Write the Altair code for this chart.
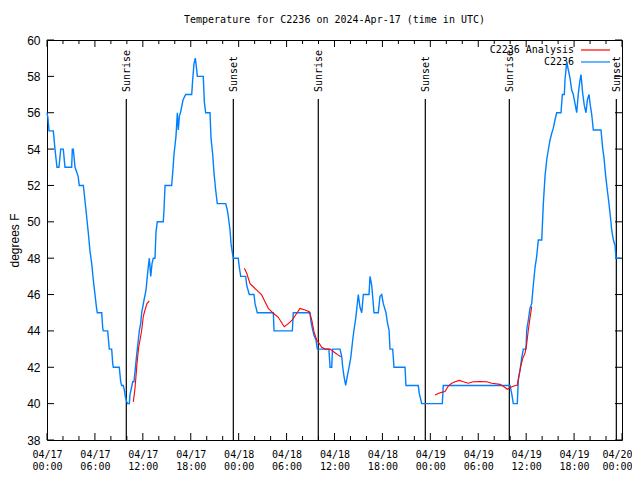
import altair as alt
import pandas as pd

# ---- data (hours since 2024-04-17 00:00 UTC, temperature in degrees F) ----
blue_hours = [0.0, 0.12, 0.25, 0.79, 1.0, 1.25, 1.5, 1.72, 2.04, 2.25, 3.09, 3.17, 3.29, 3.51, 3.9, 4.04, 4.55,
              4.88, 5.17, 5.38, 5.60, 5.80, 6.01, 6.22, 6.30, 6.85, 6.97, 7.05, 7.60, 7.76, 7.80, 8.10, 8.23, 8.30,
              9.05, 9.23, 9.35, 9.55, 9.68, 9.80, 9.98, 10.11, 10.31, 10.39, 10.52, 10.73, 10.89, 11.02, 11.23,
              11.36, 11.56, 11.73, 11.86, 12.15, 12.40, 12.56, 12.68, 12.81, 12.99, 13.15, 13.31, 13.52, 13.65,
              13.81, 14.56, 14.65, 14.78, 15.61, 15.74, 15.90, 16.15, 16.32, 16.44, 16.57, 16.74, 17.03, 17.37,
              18.12, 18.24, 18.41, 18.57, 18.75, 18.82, 19.57, 19.70, 19.87, 20.41, 20.54, 20.75, 20.91, 21.12,
              21.32, 22.38, 22.58, 22.70, 22.92, 23.04, 23.25, 23.33, 23.95, 24.08, 24.26, 24.88, 25.01, 25.33,
              25.92, 26.05, 26.33, 28.34, 28.43, 30.72, 30.84, 32.93, 33.06, 33.27, 33.47, 33.68, 33.85, 35.30,
              35.44, 35.65, 35.75, 36.69, 36.90, 37.03, 37.19, 37.40, 37.60, 37.82, 38.03, 38.28, 38.44, 38.66,
              38.86, 38.98, 39.19, 39.41, 39.61, 40.32, 40.45, 40.66, 40.95, 41.48, 41.70, 41.91, 42.11, 42.45,
              42.61, 42.83, 42.95, 43.29, 43.45, 44.83, 44.95, 46.49, 46.62, 46.92, 49.50, 49.62, 57.98, 58.19,
              58.39, 58.89, 59.02, 59.23, 59.44, 59.64, 59.98, 60.07, 60.27, 60.48, 60.69, 60.89, 61.11, 61.32,
              61.52, 61.95, 62.15, 62.36, 62.57, 62.77, 62.99, 63.20, 63.40, 63.61, 63.82, 64.36, 64.53, 64.78,
              64.86, 65.08, 65.28, 65.49, 65.70, 65.90, 66.12, 66.33, 66.53, 66.74, 66.87, 67.08, 67.28, 67.49,
              67.66, 67.87, 68.03, 68.21, 68.41, 69.37, 69.58, 69.75, 69.96, 70.16, 70.37, 70.59, 70.71, 70.92,
              71.13, 71.25, 71.75]
blue_temps = [56.0, 55.7, 55.0, 55.0, 54.0, 53.0, 53.0, 54.0, 54.0, 53.0, 53.0, 54.0, 54.0, 53.0, 52.5, 52.0, 52.0,
              50.65, 49.4, 48.4, 47.7, 46.8, 46.0, 45.2, 45.0, 45.0, 44.2, 44.0, 44.0, 43.2, 43.0, 43.0, 42.2, 42.0,
              42.0, 41.2, 41.0, 41.0, 40.75, 40.4, 40.1, 40.0, 40.0, 40.5, 40.75, 41.2, 41.2, 41.75, 42.7,
              43.2, 44.0, 44.4, 45.0, 45.7, 46.25, 47.0, 47.5, 48.0, 47.0, 47.7, 48.0, 48.0, 49.45,
              50.0, 50.0, 50.65, 52.0, 52.0, 52.7, 53.7, 54.7, 56.0, 55.05, 55.8, 56.05, 56.7, 57.0,
              57.0, 57.8, 58.7, 59.0, 58.35, 58.0, 58.0, 56.6, 56.0, 56.0, 54.6, 53.7, 52.7, 51.75,
              51.0, 51.0, 50.65, 50.3, 49.55, 48.8, 48.2, 48.0, 48.0, 47.5, 47.0, 47.0, 46.5, 46.0,
              46.0, 45.5, 45.0, 45.0, 44.0, 44.0, 45.0, 45.0, 44.5, 44.05, 43.7, 43.5, 43.0, 43.0,
              42.0, 42.0, 43.0, 43.0, 42.6, 42.0, 41.5, 41.0, 41.5, 42.0, 42.5, 43.5, 44.05, 44.7,
              45.5, 46.0, 45.3, 45.0, 46.0, 46.0, 47.0, 46.5, 45.0, 45.0, 45.9, 46.0, 45.5, 45.0,
              44.5, 44.05, 43.0, 43.0, 42.0, 42.0, 41.0, 41.0, 40.55, 40.0, 40.0, 41.0, 41.0, 40.55,
              40.0, 40.0, 41.3, 41.85, 42.5, 43.0, 43.0, 44.05, 44.6, 45.25, 45.5, 46.5, 47.5, 48.1,
              49.0, 49.0, 51.0, 52.5, 53.4, 53.95, 54.5, 54.87, 55.15, 55.6, 56.0, 56.0, 57.0, 57.0,
              57.8, 58.8, 58.35, 57.9, 57.25, 57.0, 56.5, 56.0, 57.05, 57.8, 58.1, 57.05, 56.4, 56.0,
              56.7, 57.0, 56.4, 55.9, 55.05, 55.05, 54.05, 53.5, 52.5, 51.75, 51.0, 50.1, 49.55, 49.0,
              48.7, 48.0, 48.0]

red_segment = [1] * 10 + [2] * 28 + [3] * 27
red_hours = [10.81, 11.02, 11.27, 11.48, 11.65, 11.86, 12.06, 12.27, 12.52, 12.81,
             24.71, 25.01, 25.42, 25.83, 26.46, 26.88, 27.30, 27.71, 28.34, 28.96, 29.39, 29.71, 30.22, 30.72,
             31.27, 31.68, 32.31, 32.85, 33.15, 33.43, 33.77, 34.10, 34.40, 34.81, 35.44, 36.06, 36.48, 36.78,
             48.58, 49.21, 49.84, 50.25, 50.68, 51.09, 51.63, 52.13, 52.75, 53.38, 54.22, 55.06, 55.69, 56.73,
             57.23, 57.64, 58.06, 58.48, 58.89, 59.07, 59.32, 59.57, 59.85, 60.07, 60.27, 60.48, 60.69]
red_temps = [40.1, 40.85, 42.2, 43.1, 43.5, 44.05, 44.8, 45.15, 45.5, 45.65,
             47.45, 47.17, 46.6, 46.43, 46.16, 45.98, 45.6, 45.24, 44.97, 44.75, 44.45, 44.23, 44.4, 44.6,
             44.97, 45.24, 45.15, 45.06, 44.6, 43.96, 43.5, 43.3, 43.1, 43.0, 43.0, 42.8, 42.67, 42.58,
             40.48, 40.6, 40.66, 40.97, 41.12, 41.2, 41.28, 41.2, 41.12, 41.2, 41.22, 41.2, 41.12, 41.06,
             40.93, 40.79, 40.9, 40.97, 41.02, 41.48, 42.03, 42.49, 42.77, 43.3, 44.05, 44.7, 45.33]

sun_hours = [9.93, 23.33, 33.97, 47.37, 57.89, 71.29]
sun_labels = ["Sunrise", "Sunset", "Sunrise", "Sunset", "Sunrise", "Sunset"]

x_major = list(range(0, 73, 6))
x_minor = [h for h in range(0, 73, 2) if h % 6 != 0]
y_major = list(range(38, 61, 2))

legend_labels = ["C2236 Analysis", "C2236"]
legend_colors = ["#ff0000", "#0080ff"]

TITLE = "Temperature for C2236 on 2024-Apr-17 (time in UTC)"
MONO = "DejaVu Sans Mono"
SANS = "Liberation Sans"

blue_df = pd.DataFrame({"h": blue_hours, "t": blue_temps})
red_df = pd.DataFrame({"h": red_hours, "t": red_temps, "seg": red_segment})
sun_df = pd.DataFrame({"h": sun_hours, "label": sun_labels})
xmaj_df = pd.DataFrame({"h": x_major})
xmin_df = pd.DataFrame({"h": x_minor})
ymaj_df = pd.DataFrame({"t": y_major})

xscale = alt.Scale(domain=[0, 72], nice=False, zero=False)
yscale = alt.Scale(domain=[38, 60], nice=False, zero=False)

label_expr = ("['04/' + (17 + floor(datum.value / 24)), "
              "(datum.value % 24 < 10 ? '0' : '') + (datum.value % 24) + ':00']")

x_axis = alt.Axis(values=x_major, labelExpr=label_expr, ticks=False, domain=False, grid=False,
                  labelFont=MONO, labelFontSize=10, labelColor="black", labelPadding=9,
                  labelLineHeight=12, labelFlush=False, labelOverlap=False, title=None,
                  labelAlign=alt.condition("datum.value >= 72", alt.value("right"), alt.value("center")),
                  labelOffset=alt.condition("datum.value >= 72", alt.value(10), alt.value(0)))
y_axis = alt.Axis(values=y_major, ticks=False, domain=False, grid=False,
                  labelFont=SANS, labelFontSize=12, labelColor="black", labelPadding=7,
                  title="degrees F", titleFont=SANS, titleFontSize=12, titleFontWeight="normal",
                  titleColor="black", titlePadding=5)

X = alt.X("h:Q", scale=xscale, axis=x_axis)
Y = alt.Y("t:Q", scale=yscale, axis=y_axis)

# inward ticks
tick_bottom_major = alt.Chart(xmaj_df).mark_rule(color="black", strokeWidth=1).encode(
    x=X, y=alt.value(400), y2=alt.value(393))
tick_top_major = alt.Chart(xmaj_df).mark_rule(color="black", strokeWidth=1).encode(
    x=X, y=alt.value(0), y2=alt.value(7))
tick_bottom_minor = alt.Chart(xmin_df).mark_rule(color="black", strokeWidth=1).encode(
    x=X, y=alt.value(400), y2=alt.value(396))
tick_top_minor = alt.Chart(xmin_df).mark_rule(color="black", strokeWidth=1).encode(
    x=X, y=alt.value(0), y2=alt.value(4))
tick_left = alt.Chart(ymaj_df).mark_rule(color="black", strokeWidth=1).encode(
    y=Y, x=alt.value(0), x2=alt.value(7))
tick_right = alt.Chart(ymaj_df).mark_rule(color="black", strokeWidth=1).encode(
    y=Y, x=alt.value(575), x2=alt.value(568))

sun_lines = alt.Chart(sun_df).mark_rule(color="black", strokeWidth=1.2).encode(
    x=X, y=alt.value(59), y2=alt.value(400))
sun_text = alt.Chart(sun_df).mark_text(
    angle=270, align="left", baseline="middle", font=MONO, fontSize=10, color="black", dy=1
).encode(x=X, y=alt.value(52), text="label:N")

legend_layers = []
for i, (lab, col) in enumerate(zip(legend_labels, legend_colors)):
    ldf = pd.DataFrame({"label": [lab]})
    ypos = 10 + 12 * i
    legend_layers.append(alt.Chart(ldf).mark_text(
        align="right", baseline="middle", font=MONO, fontSize=10, color="black"
    ).encode(x=alt.value(527), y=alt.value(ypos), text="label:N"))
    legend_layers.append(alt.Chart(ldf).mark_rule(color=col, strokeWidth=1.2).encode(
        x=alt.value(534), x2=alt.value(563), y=alt.value(ypos)))

blue_line = alt.Chart(blue_df).mark_line(color="#0080ff", strokeWidth=1.4).encode(
    x=X, y=Y, order="h:Q")
red_line = alt.Chart(red_df).mark_line(color="#ff0000", strokeWidth=1.1).encode(
    x=X, y=Y, detail="seg:N", order="h:Q")

chart = alt.layer(
    tick_bottom_major, tick_top_major, tick_bottom_minor, tick_top_minor,
    tick_left, tick_right, sun_lines, sun_text, *legend_layers, blue_line, red_line
).properties(
    width=575, height=400,
    title=alt.TitleParams(TITLE, font=MONO, fontSize=10, fontWeight="normal", color="black",
                          anchor="middle", offset=9),
    autosize=alt.AutoSizeParams(type="none"),
    padding={"left": 39, "top": 32, "right": 10, "bottom": 33},
    background="white",
).configure_view(stroke="black", strokeWidth=1)

chart.save("out.html", embed_options={"renderer": "svg", "actions": False})
